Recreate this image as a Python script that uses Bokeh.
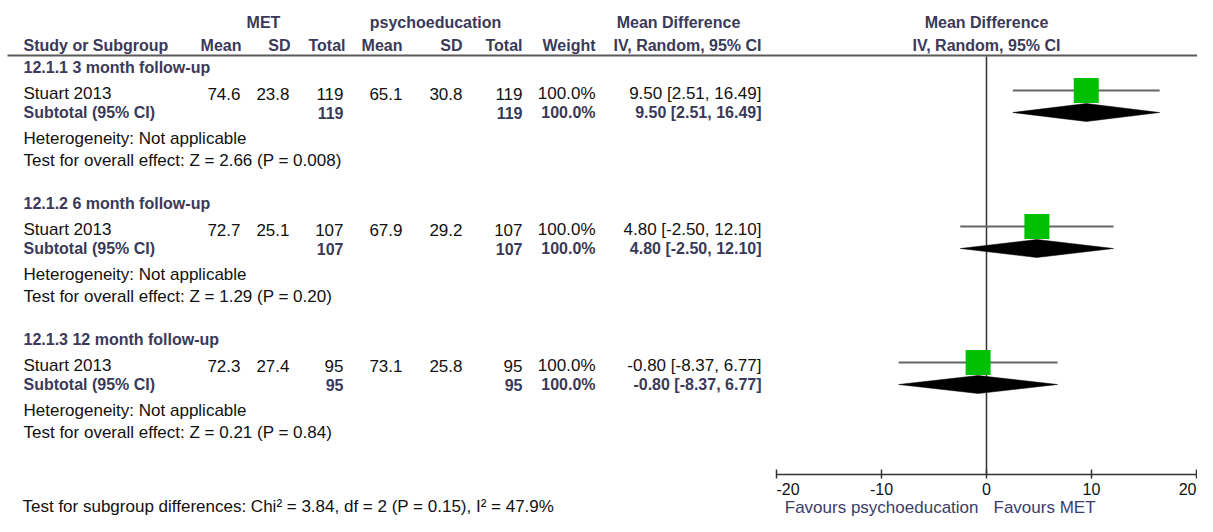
from bokeh.plotting import figure
from bokeh.models import Range1d, ColumnDataSource
from bokeh.core.properties import value
from bokeh.embed import file_html
from bokeh.resources import INLINE

# ---------------- data ----------------
subgroups = ["12.1.1 3 month follow-up", "12.1.2 6 month follow-up", "12.1.3 12 month follow-up"]
studies = ["Stuart 2013", "Stuart 2013", "Stuart 2013"]
met_mean = [74.6, 72.7, 72.3]
met_sd = [23.8, 25.1, 27.4]
met_n = [119, 107, 95]
psy_mean = [65.1, 67.9, 73.1]
psy_sd = [30.8, 29.2, 25.8]
psy_n = [119, 107, 95]
weight = [100.0, 100.0, 100.0]
md = [9.50, 4.80, -0.80]
ci_lo = [2.51, -2.50, -8.37]
ci_hi = [16.49, 12.10, 6.77]
z_vals = [2.66, 1.29, 0.21]
p_vals = ["0.008", "0.20", "0.84"]
ticks = [-20, -10, 0, 10, 20]
tick_labels = ["-20", "-10", "0", "10", "20"]
subgroup_test = "Test for subgroup differences: Chi\u00b2 = 3.84, df = 2 (P = 0.15), I\u00b2 = 47.9%"

# ---------------- layout / style ----------------
W, H = 1197, 516
FONT = "Liberation Sans"
REG = "17px"
BOLD = "16px"
BOLD_COLOR = "#3a3a58"
TXT_COLOR = "#111111"
FAV_COLOR = "#3c3c6a"

p = figure(width=W, height=H, x_range=Range1d(0, W), y_range=Range1d(H, 0),
           output_backend="svg", toolbar_location=None, min_border=0,
           outline_line_color=None, background_fill_color="white")
p.xaxis.visible = False
p.yaxis.visible = False
p.grid.visible = False
# forest scale: 0 at px 986, 10.5 px per unit
ZERO_PX, PX_PER_UNIT = 986, 10.5
p.extra_x_ranges = {"md": Range1d((0 - ZERO_PX) / PX_PER_UNIT, (W - ZERO_PX) / PX_PER_UNIT)}

items = []  # (x, y, text, align, bold, color)

def add(x, y, t, align="left", bold=False, color=None):
    items.append((x, y, t, align, bold, color or (BOLD_COLOR if bold else TXT_COLOR)))

# headers
add(263, 22, "MET", "center", True)
add(435, 22, "psychoeducation", "center", True)
add(678, 22, "Mean Difference", "center", True)
add(986, 22, "Mean Difference", "center", True)
hy = 45
add(23, hy, "Study or Subgroup", "left", True)
for x, t in [(241, "Mean"), (290, "SD"), (345, "Total"), (402, "Mean"), (462, "SD"),
             (522, "Total"), (595, "Weight"), (761, "IV, Random, 95% CI")]:
    add(x, hy, t, "right", True)
add(986, hy, "IV, Random, 95% CI", "center", True)

block_top = [67, 203, 339]
study_y, sub_y = [], []
for i in range(3):
    y0 = block_top[i]
    ys, ysub = y0 + 26, y0 + 45
    study_y.append(ys)
    sub_y.append(ysub)
    ci_txt = f"{md[i]:.2f} [{ci_lo[i]:.2f}, {ci_hi[i]:.2f}]"
    add(23, y0, subgroups[i], "left", True)
    add(23, ys, studies[i])
    add(240, ys, f"{met_mean[i]:.1f}", "right")
    add(289, ys, f"{met_sd[i]:.1f}", "right")
    add(343, ys, f"{met_n[i]}", "right")
    add(402, ys, f"{psy_mean[i]:.1f}", "right")
    add(462, ys, f"{psy_sd[i]:.1f}", "right")
    add(522, ys, f"{psy_n[i]}", "right")
    add(595, ys, f"{weight[i]:.1f}%", "right")
    add(761, ys, ci_txt, "right")
    add(23, ysub, "Subtotal (95% CI)", "left", True)
    add(343, ysub, f"{met_n[i]}", "right", True)
    add(522, ysub, f"{psy_n[i]}", "right", True)
    add(595, ysub, f"{weight[i]:.1f}%", "right", True)
    add(761, ysub, ci_txt, "right", True)
    add(23, y0 + 71, "Heterogeneity: Not applicable")
    add(23, y0 + 93, f"Test for overall effect: Z = {z_vals[i]:.2f} (P = {p_vals[i]})")

add(22, 506, subgroup_test)
add(978, 507, "Favours psychoeducation", "right", False, FAV_COLOR)
add(993, 507, "Favours MET", "left", False, FAV_COLOR)

groups = {}
for x, y, t, a, b, c in items:
    groups.setdefault((a, b), {"x": [], "y": [], "t": [], "c": []})
    g = groups[(a, b)]
    g["x"].append(x); g["y"].append(y); g["t"].append(t); g["c"].append(c)
for (a, b), g in groups.items():
    p.text(x="x", y="y", text="t", text_color="c", source=ColumnDataSource(g),
           text_align=a, text_baseline="middle", text_font=value(FONT),
           text_font_size=BOLD if b else REG, text_font_style="bold" if b else "normal")

# header rule
p.segment(x0=[7], y0=[55], x1=[1213], y1=[55], line_color="#5a5a5a", line_width=2)

# zero line
p.segment(x0=[0], y0=[56], x1=[0], y1=[474], line_color="#333333", line_width=1.5, x_range_name="md")

# CI lines and squares
ci_y = [y - 3 for y in study_y]
p.segment(x0=ci_lo, y0=ci_y, x1=ci_hi, y1=ci_y, line_color="#666666", line_width=2, x_range_name="md")
p.scatter(x=md, y=ci_y, marker="square", size=25, fill_color="#00c000", line_color=None, x_range_name="md")

# diamonds
dxs = [[ci_lo[i], md[i], ci_hi[i], md[i]] for i in range(3)]
dys = [[sub_y[i], sub_y[i] - 9, sub_y[i], sub_y[i] + 9] for i in range(3)]
p.patches(xs=dxs, ys=dys, fill_color="black", line_color="black", line_width=0.5, x_range_name="md")

# axis
ax_y = 474
p.segment(x0=[ticks[0]], y0=[ax_y], x1=[ticks[-1]], y1=[ax_y], line_color="#333333", line_width=1.5, x_range_name="md")
p.segment(x0=ticks, y0=[ax_y - 5] * len(ticks), x1=ticks, y1=[ax_y + 4] * len(ticks),
          line_color="#333333", line_width=1.5, x_range_name="md")
aligns = ["left", "center", "center", "center", "right"]
for a in set(aligns):
    idx = [i for i, al in enumerate(aligns) if al == a]
    p.text(x=[ticks[i] for i in idx], y=[488] * len(idx), text=[tick_labels[i] for i in idx],
           text_align=a, text_baseline="middle", text_font=value(FONT), text_font_size="16px",
           text_color=TXT_COLOR, x_range_name="md")

open("out.html", "w").write(file_html(p, INLINE))
